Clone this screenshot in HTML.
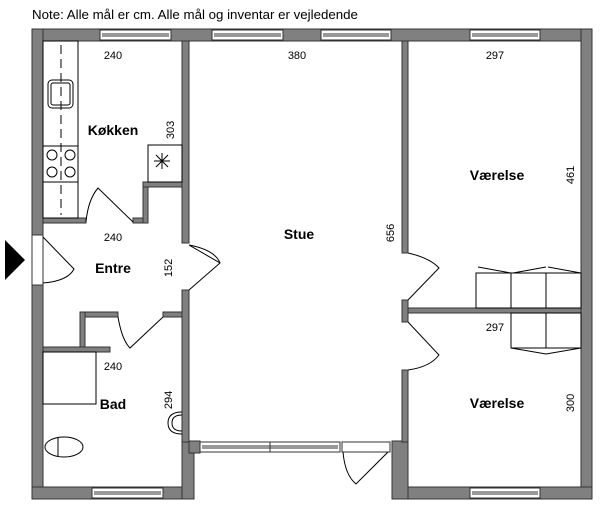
<!DOCTYPE html>
<html><head><style>
html,body{margin:0;padding:0;background:#fff;}
svg{display:block;font-family:"Liberation Sans",sans-serif;}
.t{font-size:11px;fill:#000;}
.b{font-size:14px;font-weight:bold;fill:#000;}
</style></head><body>
<svg width="600" height="507" viewBox="0 0 600 507" xmlns="http://www.w3.org/2000/svg">
<text x="32" y="19" font-size="13.3">Note: Alle mål er cm. Alle mål og inventar er vejledende</text>
<g fill="#808080" stroke="#333" stroke-width="1">
<rect x="32" y="29" width="560" height="12"/>
<rect x="32" y="29" width="11" height="206"/>
<rect x="32" y="285" width="11" height="214"/>
<rect x="581" y="29" width="11" height="470"/>
<rect x="32" y="487" width="162" height="12"/>
<rect x="182" y="441" width="12" height="58"/>
<rect x="189" y="441" width="11" height="12"/>
<rect x="392" y="487" width="200" height="12"/>
<rect x="392" y="441" width="16" height="58"/>
<rect x="182" y="41" width="7" height="202"/>
<rect x="182" y="290" width="7" height="152"/>
<rect x="402" y="41" width="6" height="212"/>
<rect x="402" y="300" width="6" height="22"/>
<rect x="402" y="370" width="6" height="72"/>
<rect x="408" y="308" width="173" height="5"/>
<rect x="43" y="218" width="43" height="5"/>
<rect x="133" y="218" width="15" height="5"/>
<rect x="143" y="182" width="5" height="41"/>
<rect x="143" y="182" width="39" height="5"/>
<rect x="80" y="312" width="38" height="5"/>
<rect x="163" y="312" width="19" height="5"/>
<rect x="80" y="312" width="5" height="40"/>
<rect x="43" y="347" width="67" height="5"/>
</g>
<g fill="#fff" stroke="#333" stroke-width="1">
<rect x="100" y="30" width="71" height="10"/><line x1="102" y1="34" x2="169" y2="34"/><line x1="102" y1="36" x2="169" y2="36"/>
<rect x="212" y="30" width="71" height="10"/><line x1="214" y1="34" x2="281" y2="34"/><line x1="214" y1="36" x2="281" y2="36"/>
<rect x="321" y="30" width="70" height="10"/><line x1="323" y1="34" x2="389" y2="34"/><line x1="323" y1="36" x2="389" y2="36"/>
<rect x="470" y="30" width="70" height="10"/><line x1="472" y1="34" x2="538" y2="34"/><line x1="472" y1="36" x2="538" y2="36"/>
<rect x="92" y="488" width="71" height="10"/><line x1="94" y1="492" x2="161" y2="492"/><line x1="94" y1="494" x2="161" y2="494"/>
<rect x="470" y="488" width="70" height="10"/><line x1="472" y1="492" x2="538" y2="492"/><line x1="472" y1="494" x2="538" y2="494"/>
<rect x="200" y="442" width="140" height="10"/><line x1="202" y1="446" x2="338" y2="446"/><line x1="202" y1="448" x2="338" y2="448"/><line x1="270" y1="442" x2="270" y2="452"/>
<rect x="342" y="442" width="48" height="10"/>
<rect x="32" y="235" width="11" height="50"/>
</g>
<g fill="none" stroke="#000" stroke-width="1">
<path d="M43 237 L74 269 Q68 281 43 283"/>
<path d="M86 222 Q88 200 98 188 L133 222"/>
<path d="M189 245 L220 263 L189 290 M189 245 Q215 250 220 263"/>
<path d="M408 253 Q430 258 439 268 L408 300"/>
<path d="M408 322 L439 355 Q430 367 408 370"/>
<path d="M118 317 Q122 340 130 348 L163 317"/>
<path d="M343 452 Q345 475 356 484 L388 452"/>
<rect x="43" y="41" width="35" height="177"/>
<line x1="61" y1="45" x2="61" y2="215" stroke-dasharray="9,5"/>
<rect x="48" y="80" width="25" height="28" rx="4"/>
<rect x="51" y="83" width="19" height="22" rx="2"/>
<line x1="43" y1="146" x2="78" y2="146"/><line x1="43" y1="182" x2="78" y2="182"/>
<circle cx="52" cy="155" r="5"/><circle cx="70" cy="155" r="5"/>
<circle cx="52" cy="172" r="5"/><circle cx="70" cy="172" r="5"/>
<rect x="148" y="145" width="34" height="37"/>
<path d="M162 153 L162 169 M154 161 L170 161 M156 155 L168 167 M168 155 L156 167"/>
<rect x="43" y="352" width="53" height="52"/>
<ellipse cx="64" cy="447" rx="19" ry="10"/>
<line x1="58" y1="438" x2="58" y2="456"/>
<path d="M182 412 Q168 412 168 423 Q168 434 182 434"/>
<path d="M182 415 Q172 415 172 423 Q172 431 182 431"/>
<rect x="476" y="273" width="105" height="35"/>
<line x1="511" y1="273" x2="511" y2="308"/><line x1="546" y1="273" x2="546" y2="308"/>
<path d="M478 267 L511 273 M513 273 L546 267 M548 267 L581 273"/>
<rect x="511" y="313" width="70" height="35"/>
<line x1="546" y1="313" x2="546" y2="348"/>
<path d="M511 348 L546 354 L581 348"/>
</g>
<polygon points="5,240 25,260 5,280" fill="#000"/>
<g text-anchor="middle">
<text class="t" x="113" y="59">240</text>
<text class="t" x="113" y="241">240</text>
<text class="t" x="113" y="370">240</text>
<text class="t" x="297" y="59">380</text>
<text class="t" x="495" y="59">297</text>
<text class="t" x="495" y="331">297</text>
<text class="t" transform="translate(174,130) rotate(-90)">303</text>
<text class="t" transform="translate(172,268) rotate(-90)">152</text>
<text class="t" transform="translate(172,400) rotate(-90)">294</text>
<text class="t" transform="translate(394,233) rotate(-90)">656</text>
<text class="t" transform="translate(574,175) rotate(-90)">461</text>
<text class="t" transform="translate(574,403) rotate(-90)">300</text>
<text class="b" x="113" y="135">Køkken</text>
<text class="b" x="113" y="273">Entre</text>
<text class="b" x="113" y="409">Bad</text>
<text class="b" x="299" y="239">Stue</text>
<text class="b" x="497" y="180">Værelse</text>
<text class="b" x="497" y="408">Værelse</text>
</g>
</svg>
</body></html>
